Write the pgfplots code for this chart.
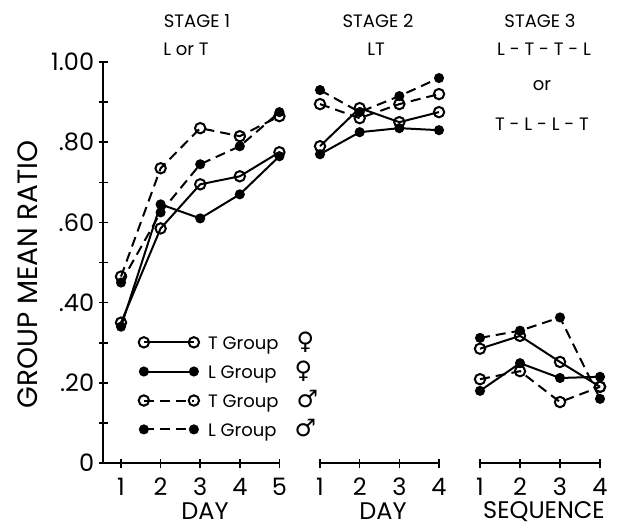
\documentclass[border=0pt]{standalone}
\usepackage{fontspec}
\setmainfont{Poppins}
\newfontfamily\symfont{DejaVu Sans}
\usepackage{pgfplots}
\pgfplotsset{compat=1.18}

% marks at both ends of the legend sample, as in the original figure
\pgfplotsset{
  endmarks legend/.style={
    legend image code/.code={
      \draw[##1,mark=none] (0pt,0pt) -- (25pt,0pt);
      \draw[##1] plot[only marks] coordinates {(0pt,0pt) (25pt,0pt)};
    }
  },
  stage/.style={
    scale only axis,
    height=200.5pt,
    ymin=0, ymax=1,
    clip=false,
    tick align=inside,
    major tick length=4.5pt,
    minor tick length=4.5pt,
    axis line style={line width=0.8pt,-},
    every tick/.style={line width=0.8pt,black},
    xticklabel style={font=\fontsize{12}{14}\selectfont,inner sep=1pt,yshift=-4pt},
    xlabel style={font=\fontsize{12}{14}\selectfont,anchor=center,inner sep=0pt},
  },
  tf/.style={black,line width=1pt,mark=o,mark size=2.6pt,mark options={fill=white,solid}},
  lf/.style={black,line width=1pt,mark=*,mark size=2pt,mark options={solid}},
  tm/.style={black,line width=1pt,dash pattern=on 5pt off 3pt,mark=o,mark size=2.6pt,mark options={fill=white,solid}},
  lm/.style={black,line width=1pt,dash pattern=on 5pt off 3pt,mark=*,mark size=2pt,mark options={solid}},
}

\begin{document}
\begin{tikzpicture}
\path[use as bounding box] (0,0) rectangle (309.5pt,263pt);

% ---------------- stage 1 ----------------
\begin{axis}[stage,
  at={(51.5pt,31.5pt)}, anchor=south west,
  width=88.2pt,
  xmin=0.545, xmax=5,
  axis x line=bottom, axis y line=left,
  axis line style={line width=0.8pt,-},
  xtick={1,2,3,4,5}, xticklabels={1,2,3,4,5},
  ytick={0,0.2,0.4,0.6,0.8,1},
  yticklabels={0,.20,.40,.60,.80,1.00},
  minor ytick={0.1,0.3,0.5,0.7,0.9},
  yticklabel style={font=\fontsize{12}{14}\selectfont,inner sep=0pt,xshift=-2pt},
  xlabel={DAY},
  xlabel style={at={(axis description cs:0.578,-0.12)}},
  ylabel={GROUP MEAN RATIO},
  ylabel style={font=\fontsize{14}{16}\selectfont,at={(axis description cs:-0.425,0.471)},anchor=center},
  endmarks legend,
  legend cell align=left,
  legend style={draw=none,fill=none,at={(axis description cs:0.2,0.335)},anchor=north west,
    font=\fontsize{9}{11}\selectfont,row sep=1.3pt,inner sep=0pt,
    nodes={inner sep=1.5pt},column sep=3pt},
]
\addplot[tf] coordinates {(1,0.350) (2,0.585) (3,0.695) (4,0.715) (5,0.775)};
\addlegendentry{T Group\hspace{9pt}{\symfont\fontsize{12}{12}\selectfont ♀}}
\addplot[lf] coordinates {(1,0.340) (2,0.645) (3,0.610) (4,0.670) (5,0.765)};
\addlegendentry{L Group\hspace{9pt}{\symfont\fontsize{12}{12}\selectfont ♀}}
\addplot[tm] coordinates {(1,0.465) (2,0.735) (3,0.835) (4,0.815) (5,0.865)};
\addlegendentry{T Group\hspace{9pt}{\symfont\fontsize{12}{12}\selectfont ♂}}
\addplot[lm] coordinates {(1,0.450) (2,0.625) (3,0.745) (4,0.790) (5,0.875)};
\addlegendentry{L Group\hspace{9pt}{\symfont\fontsize{12}{12}\selectfont ♂}}
\end{axis}

% ---------------- stage 2 ----------------
\begin{axis}[stage,
  at={(160pt,31.5pt)}, anchor=south west,
  width=59.5pt,
  xmin=1, xmax=4,
  axis x line=bottom, axis y line=none,
  axis line style={line width=0.8pt,-},
  xtick={1,2,3,4}, xticklabels={1,2,3,4},
  xlabel={DAY},
  xlabel style={at={(axis description cs:0.53,-0.12)}},
]
\addplot[tf] coordinates {(1,0.790) (2,0.885) (3,0.850) (4,0.875)};
\addplot[lf] coordinates {(1,0.770) (2,0.825) (3,0.835) (4,0.830)};
\addplot[tm] coordinates {(1,0.895) (2,0.860) (3,0.895) (4,0.920)};
\addplot[lm] coordinates {(1,0.930) (2,0.875) (3,0.915) (4,0.960)};
\end{axis}

% ---------------- stage 3 ----------------
\begin{axis}[stage,
  at={(240pt,31.5pt)}, anchor=south west,
  width=60pt,
  xmin=1, xmax=4,
  axis x line=bottom, axis y line=none,
  axis line style={line width=0.8pt,-},
  xtick={1,2,3,4}, xticklabels={1,2,3,4},
  xlabel={SEQUENCE},
  xlabel style={at={(axis description cs:0.533,-0.12)}},
]
\addplot[tf] coordinates {(1,0.285) (2,0.317) (3,0.252) (4,0.190)};
\addplot[lf] coordinates {(1,0.180) (2,0.249) (3,0.212) (4,0.215)};
\addplot[tm] coordinates {(1,0.209) (2,0.229) (3,0.152) (4,0.190)};
\addplot[lm] coordinates {(1,0.312) (2,0.330) (3,0.363) (4,0.160)};
\end{axis}

% stage headings
\begin{scope}[every node/.style={font=\fontsize{9}{11}\selectfont}]
\node at (98.5pt,252.5pt) {STAGE 1};
\node at (189pt,252.5pt) {STAGE 2};
\node at (270pt,252.5pt) {STAGE 3};
\node at (93pt,238.5pt) {L or T};
\node at (188pt,238.5pt) {LT};
\node at (272pt,238.5pt) {L - T - T - L};
\node at (271pt,220pt) {or};
\node at (271pt,201pt) {T - L - L - T};
\end{scope}
\end{tikzpicture}
\end{document}
